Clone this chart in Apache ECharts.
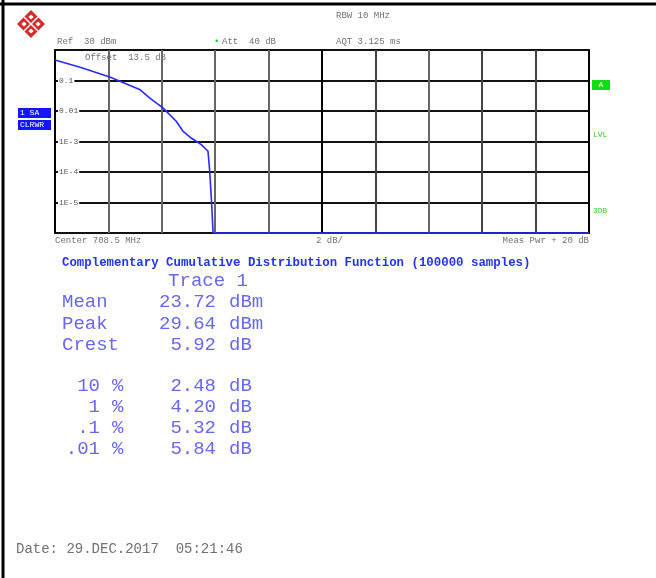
<!DOCTYPE html>
<html>
<head>
<meta charset="utf-8">
<script src="https://cdn.jsdelivr.net/npm/echarts@6/dist/echarts.min.js"></script>
<style>
  html, body { margin: 0; padding: 0; background: #fff; }
  #chart { width: 656px; height: 578px; }
</style>
</head>
<body>
<div id="chart"></div>
<script>
// CCDF trace: level above mean (dB) vs. probability
const ccdfLevel = [0, 1, 2.05, 3.17, 3.54, 4.04, 4.54, 4.79, 5.1, 5.48, 5.73, 5.79, 5.86, 5.92, 20]
const ccdfProb = [0.47, 0.26, 0.13, 0.051, 0.027, 0.0126, 0.0046, 0.0022, 0.0013, 0.00079, 0.00048, 0.00012, 0.000012, 0.000001, 0.000001]

// statistics shown under the diagram
const statNames = ['Mean', 'Peak', 'Crest']
const statValues = ['23.72', '29.64', '5.92']
const statUnits = ['dBm', 'dBm', 'dB']
const pctLabels = ['10', '1', '.1', '.01']
const pctValues = ['2.48', '4.20', '5.32', '5.84']

const MONO = '"Liberation Mono", "DejaVu Sans Mono", monospace'
const GREY = '#707070'
const BLUE = '#2a2aff'
const STAT = '#6868ee'

const chart = echarts.init(document.getElementById('chart'))

function txt(x, y, text, opt) {
  return {
    type: 'text', x: x, y: y, z: 10,
    style: Object.assign({
      text: text, fill: GREY, font: '9px ' + MONO,
      textVerticalAlign: 'middle'
    }, opt || {})
  }
}

function diamond(cx, cy, h, fill) {
  return {
    type: 'polygon', z: 10,
    shape: { points: [[cx, cy - h], [cx + h, cy], [cx, cy + h], [cx - h, cy]] },
    style: { fill: fill }
  }
}

const graphics = []

// frame of the page
graphics.push({ type: 'line', z: 10, shape: { x1: 0, y1: 4, x2: 656, y2: 4 }, style: { stroke: '#000', lineWidth: 3 } })
graphics.push({ type: 'line', z: 10, shape: { x1: 3, y1: 0, x2: 3, y2: 578 }, style: { stroke: '#000', lineWidth: 3 } })

// logo
graphics.push(diamond(31, 24, 14, '#d42a2a'))
graphics.push({ type: 'line', z: 11, shape: { x1: 24, y1: 17, x2: 38, y2: 31 }, style: { stroke: '#fff', lineWidth: 1.5 } })
graphics.push({ type: 'line', z: 11, shape: { x1: 38, y1: 17, x2: 24, y2: 31 }, style: { stroke: '#fff', lineWidth: 1.5 } })
;[[31, 17], [38, 24], [31, 31], [24, 24]].forEach(p => {
  const d = diamond(p[0], p[1], 2.6, '#fff')
  d.z = 12
  graphics.push(d)
})

// header
graphics.push(txt(336, 16, 'RBW 10 MHz'))
graphics.push(txt(57, 42, 'Ref  30 dBm'))
graphics.push(txt(214, 42, '•', { fill: '#22cc22' }))
graphics.push(txt(222, 42, 'Att  40 dB'))
graphics.push(txt(336, 42, 'AQT 3.125 ms'))
graphics.push(txt(85, 58, 'Offset  13.5 dB'))

// left trace info boxes
graphics.push({ type: 'rect', z: 10, shape: { x: 18, y: 108, width: 33, height: 10 }, style: { fill: '#1414ff' } })
graphics.push({ type: 'rect', z: 10, shape: { x: 18, y: 120, width: 33, height: 10 }, style: { fill: '#1414ff' } })
graphics.push(txt(20, 113, '1 SA', { fill: '#fff', font: '8px ' + MONO }))
graphics.push(txt(20, 125, 'CLRWR', { fill: '#fff', font: '8px ' + MONO }))

// right side markers
graphics.push({ type: 'rect', z: 10, shape: { x: 592, y: 80, width: 18, height: 10 }, style: { fill: '#11dd11' } })
graphics.push(txt(601, 85, 'A', { fill: '#fff', font: '8px ' + MONO, textAlign: 'center' }))
graphics.push(txt(593, 135, 'LVL', { fill: '#33cc33', font: '8px ' + MONO }))
graphics.push(txt(593, 211, '3DB', { fill: '#33cc33', font: '8px ' + MONO }))

// footer of the diagram
graphics.push(txt(55, 241, 'Center 708.5 MHz'))
graphics.push(txt(316, 241, '2 dB/'))
graphics.push(txt(589, 241, 'Meas Pwr + 20 dB', { textAlign: 'right' }))

// title
graphics.push(txt(62, 263, 'Complementary Cumulative Distribution Function (100000 samples)',
  { fill: '#2233ee', font: 'bold 12.4px ' + MONO }))

// statistics
const statFont = '19px ' + MONO
graphics.push(txt(208, 281, 'Trace 1', { fill: STAT, font: statFont, textAlign: 'center' }))
const statY = [302, 324, 345]
statNames.forEach((n, i) => {
  graphics.push(txt(62, statY[i], n, { fill: STAT, font: statFont }))
  graphics.push(txt(216, statY[i], statValues[i], { fill: STAT, font: statFont, textAlign: 'right' }))
  graphics.push(txt(229, statY[i], statUnits[i], { fill: STAT, font: statFont }))
})
const pctY = [386, 407, 428, 449]
pctLabels.forEach((n, i) => {
  graphics.push(txt(100, pctY[i], n, { fill: STAT, font: statFont, textAlign: 'right' }))
  graphics.push(txt(112, pctY[i], '%', { fill: STAT, font: statFont }))
  graphics.push(txt(216, pctY[i], pctValues[i], { fill: STAT, font: statFont, textAlign: 'right' }))
  graphics.push(txt(229, pctY[i], 'dB', { fill: STAT, font: statFont }))
})

// date line
graphics.push(txt(16, 549, 'Date: 29.DEC.2017  05:21:46', { font: '14px ' + MONO }))

const vColors = ['#000', '#666', '#666', '#666', '#666', '#000', '#444', '#666', '#444', '#444', '#000']

const option = {
  animation: false,
  backgroundColor: '#fff',
  grid: {
    left: 55, top: 50, right: 67, bottom: 345,
    show: true, borderColor: '#111', borderWidth: 2, backgroundColor: '#fff'
  },
  xAxis: {
    type: 'value',
    min: 0, max: 20, interval: 2,
    axisLine: { show: false },
    axisTick: { show: false },
    axisLabel: { show: false },
    splitLine: { show: true, lineStyle: { color: vColors, width: 2 } }
  },
  yAxis: {
    type: 'log',
    logBase: 10,
    min: 0.000001, max: 1,
    axisLine: { show: false },
    axisTick: { show: false },
    splitLine: { show: true, lineStyle: { color: '#111', width: 2 } },
    axisLabel: {
      inside: true,
      margin: 3,
      showMinLabel: false,
      showMaxLabel: false,
      fontSize: 8,
      fontFamily: MONO,
      color: '#555',
      backgroundColor: '#fff',
      padding: [0, 1, 0, 1],
      formatter: v => {
        const e = Math.round(Math.log10(v))
        if (e === -1) return '0.1'
        if (e === -2) return '0.01'
        if (e <= -3 && e >= -5) return '1E' + e
        return ''
      }
    }
  },
  graphic: graphics,
  series: [{
    type: 'line',
    data: ccdfLevel.map((x, i) => [x, ccdfProb[i]]),
    showSymbol: false,
    clip: false,
    z: 5,
    lineStyle: { color: BLUE, width: 1.6 }
  }]
}

chart.setOption(option)
</script>
</body>
</html>
